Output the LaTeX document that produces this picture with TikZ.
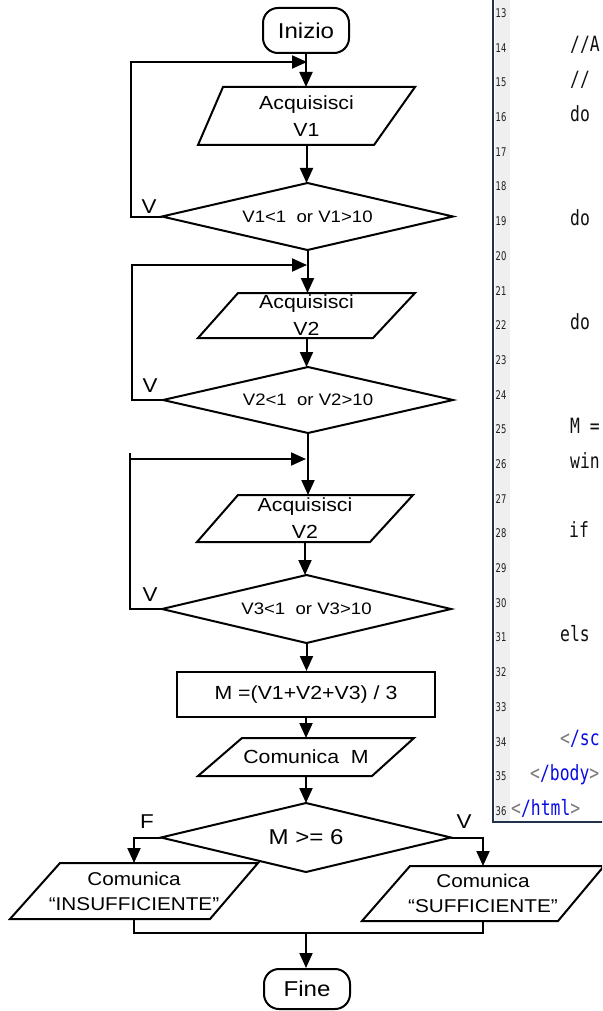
\documentclass[tikz,border=0pt]{standalone}
\usepackage{fontspec}
\setmainfont{Liberation Sans}[FakeStretch=1.12]
\newfontfamily\codefont{DejaVu Sans Mono}[FakeStretch=0.78]
\newfontfamily\numfont{DejaVu Sans}[FakeStretch=0.7]
\usetikzlibrary{arrows.meta}
\definecolor{panelborder}{HTML}{22324A}
\definecolor{gutterbg}{HTML}{EFEFEF}
\definecolor{numgray}{HTML}{202020}
\definecolor{tagblue}{HTML}{0A0AE6}
\definecolor{taggray}{HTML}{7A7A7A}
\definecolor{codeblack}{HTML}{111111}
\tikzset{
  term/.style={draw, line width=2pt, rounded corners=15pt, minimum width=86pt, minimum height=45pt, inner sep=0pt, font=\fontsize{21.5}{24}\selectfont},
  iobox/.style={inner sep=0pt, outer sep=0pt, align=center, font=\fontsize{19}{27}\selectfont},
  decision/.style={rectangle, inner sep=0pt, outer sep=0pt, font=\fontsize{16.6}{20}\selectfont},
  procbox/.style={draw, line width=2pt, rectangle, inner sep=0pt, font=\fontsize{19}{22}\selectfont},
  arr/.style={line width=2pt, -{Triangle[length=15pt,width=13pt]}},
  link/.style={line width=2pt},
  lbl/.style={font=\fontsize{20}{22}\selectfont, inner sep=0pt},
  lnum/.style={font=\numfont\fontsize{12}{13}\selectfont, text=numgray, anchor=west, inner sep=0pt},
  codeln/.style={font=\codefont\fontsize{21}{24}\selectfont, text=codeblack, anchor=base west, inner sep=0pt},
}
\begin{document}
\begin{tikzpicture}[x=1pt,y=-1pt]
\useasboundingbox (0,0) rectangle (602,1011);
\clip (0,0) rectangle (602,1011);
\fill[white] (0,0) rectangle (602,1011);

% ---------- code editor panel ----------
\fill[gutterbg] (495,-2) rectangle (510,821);
\draw[panelborder, line width=2.5pt] (493,-2) -- (493,822) -- (604,822);
\foreach \n in {13,...,36} {
  \node[lnum] (ln\n) at (495.5,{13+(\n-13)*34.7}) {\n};
}
\node[codeln] (c14) at ([yshift=-4pt]ln14.west -| 570,0) {//A};
\node[codeln] (c15) at ([yshift=-4pt]ln15.west -| 570,0) {//};
\node[codeln] (c16) at ([yshift=-4pt]ln16.west -| 570,0) {do};
\node[codeln] (c19) at ([yshift=-4pt]ln19.west -| 570,0) {do};
\node[codeln] (c22) at ([yshift=-4pt]ln22.west -| 570,0) {do};
\node[codeln] (c25) at ([yshift=-4pt]ln25.west -| 570,0) {M =};
\node[codeln] (c26) at ([yshift=-4pt]ln26.west -| 570,0) {win};
\node[codeln] (c28) at ([yshift=-4pt]ln28.west -| 569,0) {if};
\node[codeln] (c31) at ([yshift=-4pt]ln31.west -| 560,0) {els};
\node[codeln] (c34) at ([yshift=-4pt]ln34.west -| 560,0) {\textcolor{taggray}{<}\textcolor{tagblue}{/sc}};
\node[codeln] (c35) at ([yshift=-4pt]ln35.west -| 530,0) {\textcolor{taggray}{<}\textcolor{tagblue}{/body}\textcolor{taggray}{>}};
\node[codeln] (c36) at ([yshift=-4pt]ln36.west -| 511,0) {\textcolor{taggray}{<}\textcolor{tagblue}{/html}\textcolor{taggray}{>}};

% ---------- flowchart nodes ----------
\node[term] (ini) at (306,30.5) {Inizio};

\node[iobox, minimum width=217pt, minimum height=58pt] (p1) at (306.5,116) {Acquisisci\\V1};
\draw[link] (p1.south west) -- ([xshift=-41pt]p1.south east) -- (p1.north east) -- ([xshift=25pt]p1.north west) -- cycle;

\node[decision, minimum width=291pt, minimum height=67pt] (d1) at (307.5,216.5) {V1<1\ \ or V1>10};
\draw[link] (d1.north) -- (d1.east) -- (d1.south) -- (d1.west) -- cycle;

\node[iobox, minimum width=217pt, minimum height=45pt] (p2) at (306.5,315.5) {Acquisisci\\V2};
\draw[link] (p2.south west) -- ([xshift=-42pt]p2.south east) -- (p2.north east) -- ([xshift=40pt]p2.north west) -- cycle;

\node[decision, minimum width=290pt, minimum height=66pt] (d2) at (308,400) {V2<1\ \ or V2>10};
\draw[link] (d2.north) -- (d2.east) -- (d2.south) -- (d2.west) -- cycle;

\node[iobox, minimum width=216pt, minimum height=47pt] (p3) at (305,518.5) {Acquisisci\\V2};
\draw[link] (p3.south west) -- ([xshift=-43pt]p3.south east) -- (p3.north east) -- ([xshift=41pt]p3.north west) -- cycle;

\node[decision, minimum width=289pt, minimum height=68pt] (d3) at (306.5,609) {V3<1\ \ or V3>10};
\draw[link] (d3.north) -- (d3.east) -- (d3.south) -- (d3.west) -- cycle;

\node[procbox, minimum width=258pt, minimum height=45pt] (calc) at (306,694.5) {M =(V1+V2+V3) / 3};

\node[iobox, minimum width=216pt, minimum height=38pt] (pm) at (306,757) {Comunica\ \ M};
\draw[link] (pm.south west) -- ([xshift=-42pt]pm.south east) -- (pm.north east) -- ([xshift=44pt]pm.north west) -- cycle;

\node[decision, minimum width=290pt, minimum height=69pt, font=\fontsize{21.5}{24}\selectfont] (d4) at (306,837.5) {M >= 6};
\draw[link] (d4.north) -- (d4.east) -- (d4.south) -- (d4.west) -- cycle;

\node[iobox, minimum width=248pt, minimum height=56pt, font=\fontsize{18.5}{25}\selectfont] (lp) at (134,891) {Comunica\\``INSUFFICIENTE''};
\draw[link] (lp.south west) -- ([xshift=-48pt]lp.south east) -- (lp.north east) -- ([xshift=50pt]lp.north west) -- cycle;

\node[iobox, minimum width=242pt, minimum height=55pt, font=\fontsize{18.5}{25}\selectfont] (rp) at (483,893.5) {Comunica\\``SUFFICIENTE''};
\draw[link] (rp.south west) -- ([xshift=-46pt]rp.south east) -- (rp.north east) -- ([xshift=48pt]rp.north west) -- cycle;

\node[term, minimum height=40pt] (fin) at (307,989) {Fine};

% ---------- junction points ----------
\coordinate (j1) at (307,62);
\coordinate (j2) at (307,265);
\coordinate (j3) at (306,459);
\coordinate (jb) at (306,933);

% ---------- connectors ----------
\draw[arr] (ini.south) -- (ini.south |- p1.north);
\draw[arr] (p1.south) -- (p1.south |- d1.north);
\draw[arr] (d1.south) -- (d1.south |- p2.north);
\draw[arr] (p2.south) -- (p2.south |- d2.north);
\draw[arr] (d2.south) -- (d2.south |- p3.north);
\draw[arr] (p3.south) -- (p3.south |- d3.north);
\draw[arr] (d3.south) -- (d3.south |- calc.north);
\draw[arr] (calc.south) -- (calc.south |- pm.north);
\draw[arr] (pm.south) -- (pm.south |- d4.north);

\draw[arr] (d1.west) -- ++(-31,0) |- (j1);
\draw[arr] (d2.west) -- ++(-31,0) |- (j2);
\draw[link] (d3.west) -- ++(-32,0) coordinate (c3) -- (c3 |- j3) -- ++(0,-6);
\draw[arr] (c3 |- j3) -- (j3);

\draw[arr] (d4.west) -| (lp.north);
\draw[arr] (d4.east) -| (rp.north);
\draw[link] (lp.south) |- (jb) -| (rp.south);
\draw[arr] (jb) -- (jb |- fin.north);

% ---------- branch labels ----------
\node[lbl] (v1) at (149,207) {V};
\node[lbl] (v2) at (150,386) {V};
\node[lbl] (v3) at (150,595) {V};
\node[lbl] (lf) at (147,822) {F};
\node[lbl] (lv) at (464,822) {V};
\end{tikzpicture}
\end{document}
